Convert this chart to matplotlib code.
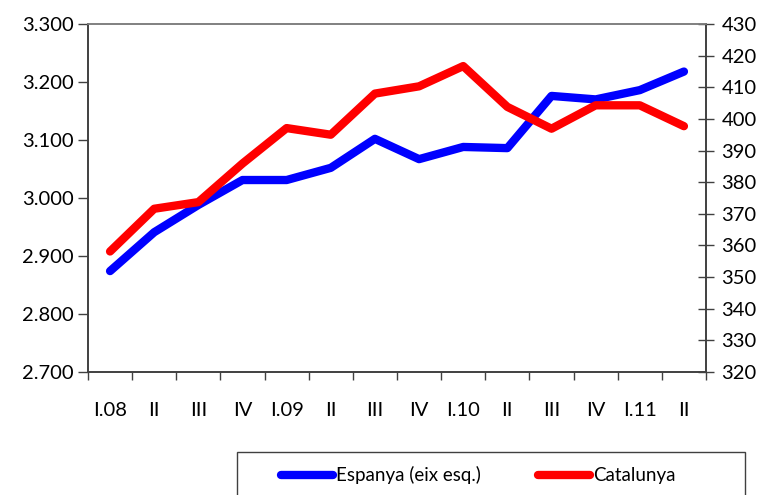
import matplotlib
matplotlib.use("Agg")
import matplotlib.pyplot as plt
from matplotlib.lines import Line2D
from matplotlib.patches import Rectangle

categories = ["I.08", "II", "III", "IV", "I.09", "II", "III", "IV",
              "I.10", "II", "III", "IV", "I.11", "II"]
espanya = [2874, 2941, 2988, 3031, 3031, 3052, 3102, 3067,
           3088, 3086, 3176, 3170, 3186, 3218]
catalunya = [358.1, 371.6, 373.7, 385.9, 397.1, 395.0, 408.0, 410.3,
             416.7, 403.8, 396.9, 404.3, 404.3, 397.7]
left_ticks = [2700, 2800, 2900, 3000, 3100, 3200, 3300]
left_labels = ["2.700", "2.800", "2.900", "3.000", "3.100", "3.200", "3.300"]
right_ticks = list(range(320, 431, 10))
legend_labels = ["Espanya (eix esq.)", "Catalunya"]

plt.rcParams['font.family'] = ['Lato', 'DejaVu Sans']
fs = 14.5

W, H = 768, 495
fig = plt.figure(figsize=(W/100, H/100), dpi=100)
ax = fig.add_axes([88/W, 1-372/H, (706-88)/W, (372-24)/H])
ax2 = ax.twinx()

x = list(range(len(categories)))
lw = 6
blue, red = '#0000FF', '#FF0000'
ax.plot(x, espanya, color=blue, lw=lw, solid_capstyle='round', solid_joinstyle='round', zorder=3)
ax2.plot(x, catalunya, color=red, lw=lw, solid_capstyle='round', solid_joinstyle='round', zorder=3)

ax.set_xlim(-0.5, len(categories)-0.5)
ax.set_ylim(2700, 3300)
ax2.set_ylim(320, 430)
ax.set_yticks(left_ticks)
ax.set_yticklabels(left_labels, fontsize=fs)
ax2.set_yticks(right_ticks)
ax2.set_yticklabels([str(t) for t in right_ticks], fontsize=fs)

ax.set_xticks([i - 0.5 for i in range(len(categories)+1)])
ax.set_xticklabels([])
ax.tick_params(axis='x', direction='out', length=6, width=1, color='#404040')
for i, c in enumerate(categories):
    ax.text(i, -0.11, c, transform=ax.get_xaxis_transform(), ha='center', va='center', fontsize=fs)

ax.tick_params(axis='y', direction='out', length=7, width=1, color='#404040', pad=3)
ax2.tick_params(axis='y', direction='inout', length=12, width=1, color='#404040', pad=5)

for a in (ax, ax2):
    a.spines['top'].set_color('#808080')
    a.spines['left'].set_color('#404040')
    a.spines['bottom'].set_color('#404040')
    a.spines['right'].set_color('#404040')
    for s in a.spines.values():
        s.set_linewidth(1.2)

# legend (manual, box runs off the bottom edge as in the reference)
fig.add_artist(Rectangle((237/W, -0.05), (745-237)/W, (1-452/H) + 0.05,
                         transform=fig.transFigure, fill=False, edgecolor='#404040', lw=1.0))
ly = 1 - 475/H
fig.add_artist(Line2D([281/W, 333/W], [ly, ly], transform=fig.transFigure, color=blue,
                      lw=lw, solid_capstyle='round'))
fig.text(336/W, ly, legend_labels[0], ha='left', va='center', fontsize=fs - 1)
fig.add_artist(Line2D([538/W, 590/W], [ly, ly], transform=fig.transFigure, color=red,
                      lw=lw, solid_capstyle='round'))
fig.text(593/W, ly, legend_labels[1], ha='left', va='center', fontsize=fs - 1)

fig.savefig("out.png", dpi=100)
